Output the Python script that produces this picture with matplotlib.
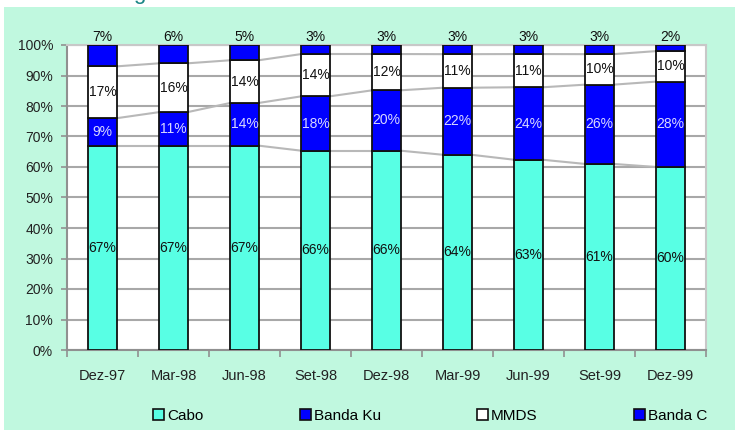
import numpy as np
import matplotlib.pyplot as plt
from matplotlib.patches import Patch, Rectangle
from matplotlib.ticker import PercentFormatter

plt.rcParams['font.family'] = ['Liberation Sans', 'DejaVu Sans']

periods = ['Dez-97', 'Mar-98', 'Jun-98', 'Set-98', 'Dez-98',
           'Mar-99', 'Jun-99', 'Set-99', 'Dez-99']
cabo = [67, 67, 67, 66, 66, 64, 63, 61, 60]
banda_ku = [9, 11, 14, 18, 20, 22, 24, 26, 28]
mmds = [17, 16, 14, 14, 12, 11, 11, 10, 10]
banda_c = [7, 6, 5, 3, 3, 3, 3, 3, 2]

series = [('Cabo', cabo, '#58FFE4', '#111111'),
          ('Banda Ku', banda_ku, '#0000FF', '#D8D8FF'),
          ('MMDS', mmds, '#FFFFFF', '#111111'),
          ('Banda C', banda_c, '#0000FF', '#111111')]

mint = '#C0F8DF'
fig = plt.figure(figsize=(7.35, 4.3), dpi=100, facecolor='white')
fig.patches.append(Rectangle((4 / 735, 0), 1, 1 - 7 / 430, transform=fig.transFigure,
                             facecolor=mint, edgecolor='none', zorder=-5))
# cut-off title descender at the very top
fig.text(133 / 735, 1 + 1 / 430, 'g', color='#1A8585', fontsize=16, va='baseline')

ax = fig.add_axes([67 / 735, 1 - 350 / 430, 639 / 735, 305 / 430])
ax.set_facecolor('white')

x = np.arange(len(periods))
width = 0.4
totals = np.sum([s[1] for s in series], axis=0).astype(float)

bottom = np.zeros(len(periods))
tops = []
for name, vals, color, tcolor in series:
    h = np.array(vals) / totals
    ax.bar(x, h, width, bottom=bottom, color=color, edgecolor='#101010',
           linewidth=1.3, zorder=3)
    for xi, b, hi, v in zip(x, bottom, h, vals):
        if name == 'Banda C':
            ax.text(xi, 1.0 + 0.004, f'{v}%', ha='center', va='bottom',
                    fontsize=10, color=tcolor, clip_on=False)
        else:
            ax.text(xi, b + hi / 2, f'{v}%', ha='center', va='center',
                    fontsize=10, color=tcolor, zorder=4)
    bottom = bottom + h
    tops.append(bottom.copy())

# series lines between neighbouring bars
for level in tops[:3]:
    for i in range(len(periods) - 1):
        ax.plot([x[i] + width / 2, x[i + 1] - width / 2], [level[i], level[i + 1]],
                color='#B8B8B8', lw=1.5, zorder=2)

ax.set_xlim(-0.5, len(periods) - 0.5)
ax.set_ylim(0, 1)
ax.yaxis.set_major_locator(plt.MultipleLocator(0.1))
ax.yaxis.set_major_formatter(PercentFormatter(1, decimals=0))
ax.grid(axis='y', color='#A8A8A8', lw=1.5, zorder=1)
ax.set_axisbelow(True)

ax.set_xticks(np.arange(-0.5, len(periods), 1.0))
ax.set_xticklabels([])
ax.set_xticks(x, minor=True)
ax.set_xticklabels(periods, minor=True)
ax.tick_params(axis='x', which='major', length=5, width=1.2, color='#909090')
ax.tick_params(axis='x', which='minor', length=0, pad=14, labelsize=10.5, labelcolor='#222222')
ax.tick_params(axis='y', length=4, width=1.2, color='#909090', pad=6,
               labelsize=10, labelcolor='#222222')

for side in ['left', 'bottom']:
    ax.spines[side].set_color('#909090')
    ax.spines[side].set_linewidth(1.5)
for side in ['top', 'right']:
    ax.spines[side].set_color('#C8C8C8')
    ax.spines[side].set_linewidth(1.5)

handles = [Patch(facecolor=c, edgecolor='#101010', linewidth=1.2, label=n)
           for n, _, c, _ in series]
fig.legend(handles=handles, loc='center left', bbox_to_anchor=(153 / 735, 0.033),
           ncol=4, frameon=False, fontsize=11, handlelength=0.72, handleheight=0.72,
           handletextpad=0.2, columnspacing=6.3, borderpad=0, borderaxespad=0)

fig.savefig('out.png', dpi=100, facecolor='white')
